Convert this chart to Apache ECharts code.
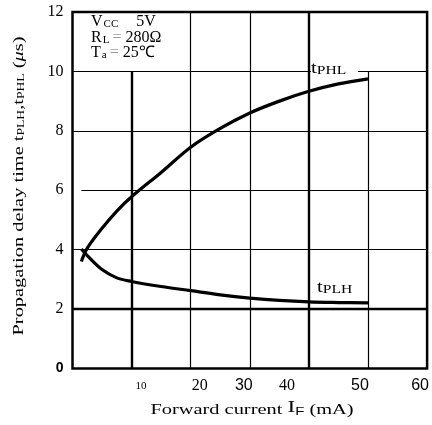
<!DOCTYPE html>
<html><head><meta charset="utf-8">
<script src="https://cdn.jsdelivr.net/npm/echarts@6/dist/echarts.min.js"></script>
<style>html,body{margin:0;padding:0;background:#fff}#c{width:432px;height:425px}</style>
</head><body><div id="c"></div>
<script>
// Data
const forwardCurrent = [1.5, 2.5, 5, 7.5, 10, 15, 20, 25, 30, 35, 40, 45, 50];
const tPHL = [3.6, 4.05, 4.72, 5.3, 5.78, 6.6, 7.45, 8.08, 8.6, 9.0, 9.33, 9.58, 9.75];
const tPLH = [4.02, 3.8, 3.33, 3.05, 2.93, 2.76, 2.62, 2.48, 2.37, 2.29, 2.24, 2.22, 2.21];
const xTicks = [0, 10, 20, 30, 40, 50, 60];
const yTicks = [0, 2, 4, 6, 8, 10, 12];

const SERIF = 'Liberation Serif';
const SANS = 'Liberation Sans';
const STRETCH = 1.36;

const chart = echarts.init(document.getElementById('c'), null, {renderer: 'canvas'});
const pairs = (xs, ys) => xs.map((x, i) => [x, ys[i]]);

const xRich = {
  x10: {fontFamily: SERIF, fontSize: 11, padding: [3, 0, 0, 19], color: '#000'},
  x20: {fontFamily: SERIF, fontSize: 16, padding: [0, 0, 0, 18], color: '#000'},
  x30: {fontFamily: SANS, fontSize: 16, padding: [0, 12, 0, 0], color: '#000'},
  x40: {fontFamily: SERIF, fontSize: 16, padding: [0, 44, 0, 0], color: '#000'},
  x50: {fontFamily: SANS, fontSize: 16, padding: [0, 16, 0, 0], color: '#000'},
  x60: {fontFamily: SANS, fontSize: 16, padding: [0, 14, 0, 0], color: '#000'}
};
const yRich = {
  n: {fontFamily: SERIF, fontSize: 16, color: '#000'},
  z: {fontFamily: SANS, fontSize: 14, fontWeight: 'bold', color: '#000'}
};

const thin = {color: '#000', width: 1.2, type: 'solid'};
const thick = {color: '#000', width: 2.4, type: 'solid'};

const gridLines = [
  // vertical
  [{coord: [10, 0], lineStyle: thick}, {coord: [10, 10]}],
  [{coord: [20, 0], lineStyle: thin}, {coord: [20, 12]}],
  [{coord: [30, 0], lineStyle: thin}, {coord: [30, 12]}],
  [{coord: [40, 0], lineStyle: thick}, {coord: [40, 12]}],
  [{coord: [50, 0], lineStyle: thin}, {coord: [50, 10]}],
  // horizontal
  [{coord: [0, 2], lineStyle: thick}, {coord: [60, 2]}],
  [{coord: [0, 4], lineStyle: thin}, {coord: [60, 4]}],
  [{coord: [1.5, 6], lineStyle: thin}, {coord: [60, 6]}],
  [{coord: [0, 8], lineStyle: thin}, {coord: [60, 8]}],
  [{coord: [0, 10], lineStyle: thin}, {coord: [60, 10]}]
];

const subLabelRich = {
  t: {fontFamily: SERIF, fontSize: 16, fill: '#000'},
  s: {fontFamily: SERIF, fontSize: 12, fill: '#000', padding: [4, 0, 0, 0]}
};

chart.setOption({
  animation: false,
  backgroundColor: '#fff',
  grid: {left: 72.5, right: 4, top: 12, bottom: 56.5, show: true, borderColor: '#000', borderWidth: 2.5, backgroundColor: 'transparent'},
  xAxis: {
    type: 'value', min: 0, max: 60, interval: 10,
    axisLine: {show: false}, axisTick: {show: false}, splitLine: {show: false},
    axisLabel: {
      showMinLabel: false, showMaxLabel: true, margin: 9,
      formatter: v => (v === 0 ? '' : '{x' + v + '|' + v + '}'),
      rich: xRich
    }
  },
  yAxis: {
    type: 'value', min: 0, max: 12, interval: 2,
    axisLine: {show: false}, axisTick: {show: false}, splitLine: {show: false},
    axisLabel: {
      margin: 9, showMaxLabel: true,
      formatter: v => (v === 0 ? '{z|0}' : '{n|' + v + '}'),
      rich: yRich
    }
  },
  series: [
    {
      name: 'tPHL', type: 'line', data: pairs(forwardCurrent, tPHL),
      smooth: 0.35, symbol: 'none', lineStyle: {color: '#000', width: 3.2}, z: 5,
      markLine: {silent: true, symbol: 'none', label: {show: false}, data: gridLines, z: 1}
    },
    {
      name: 'tPLH', type: 'line', data: pairs(forwardCurrent, tPLH),
      smooth: 0.35, symbol: 'none', lineStyle: {color: '#000', width: 3.2}, z: 5
    }
  ],
  graphic: [
    {
      type: 'text', left: 91, top: 14, z: 10,
      style: {
        text: '{v|V}{s|CC}{sp| }{v|5V}\n{v|R}{s|L}{g|=}{v|280Ω}\n{v|T}{s|a}{g|=}{v|25℃}',
        fill: '#000',
        rich: {
          v: {fontFamily: SERIF, fontSize: 16, lineHeight: 15.5, fill: '#000'},
          s: {fontFamily: SERIF, fontSize: 11, lineHeight: 15.5, fill: '#000', padding: [5, 1, 0, 1]},
          sp: {fontFamily: SERIF, fontSize: 16, lineHeight: 15.5, width: 17},
          g: {fontFamily: SERIF, fontSize: 16, lineHeight: 15.5, fill: '#9a9a9a', padding: [0, 4, 0, 2]}
        }
      }
    },
    {
      type: 'text', x: 311, y: 61, z: 10, scaleX: 1.3,
      style: {
        text: '{t|t}{s|PHL}', backgroundColor: '#fff', padding: [0, 9, 0, 0],
        rich: subLabelRich
      }
    },
    {
      type: 'text', x: 317, y: 280, z: 10, scaleX: 1.3,
      style: {text: '{t|t}{s|PLH}', rich: subLabelRich}
    },
    {
      // x-axis title
      type: 'text', x: 252, y: 410, z: 10, scaleX: STRETCH,
      style: {
        text: 'Forward current {i|I}{f|F} (mA)',
        fontFamily: SERIF, fontSize: 15, fill: '#000', align: 'center', verticalAlign: 'middle',
        rich: {
          i: {fontFamily: SERIF, fontSize: 17, fill: '#000', padding: [0, 0, 4, 0]},
          f: {fontFamily: SANS, fontSize: 11, fill: '#000', padding: [4, 0, 0, 0]}
        }
      }
    },
    {
      // y-axis title
      type: 'text', x: 19.5, y: 186, z: 10, rotation: Math.PI / 2, scaleX: STRETCH,
      style: {
        text: 'Propagation delay time t{s|PLH},t{s|PHL} ({m|μ}s)',
        fontFamily: SERIF, fontSize: 15, fill: '#000', align: 'center', verticalAlign: 'middle',
        rich: {
          s: {fontFamily: SERIF, fontSize: 10, fill: '#000', padding: [4, 0, 0, 0]},
          m: {fontFamily: SERIF, fontSize: 15, fontStyle: 'italic', fill: '#000'}
        }
      }
    }
  ]
});
</script></body></html>
